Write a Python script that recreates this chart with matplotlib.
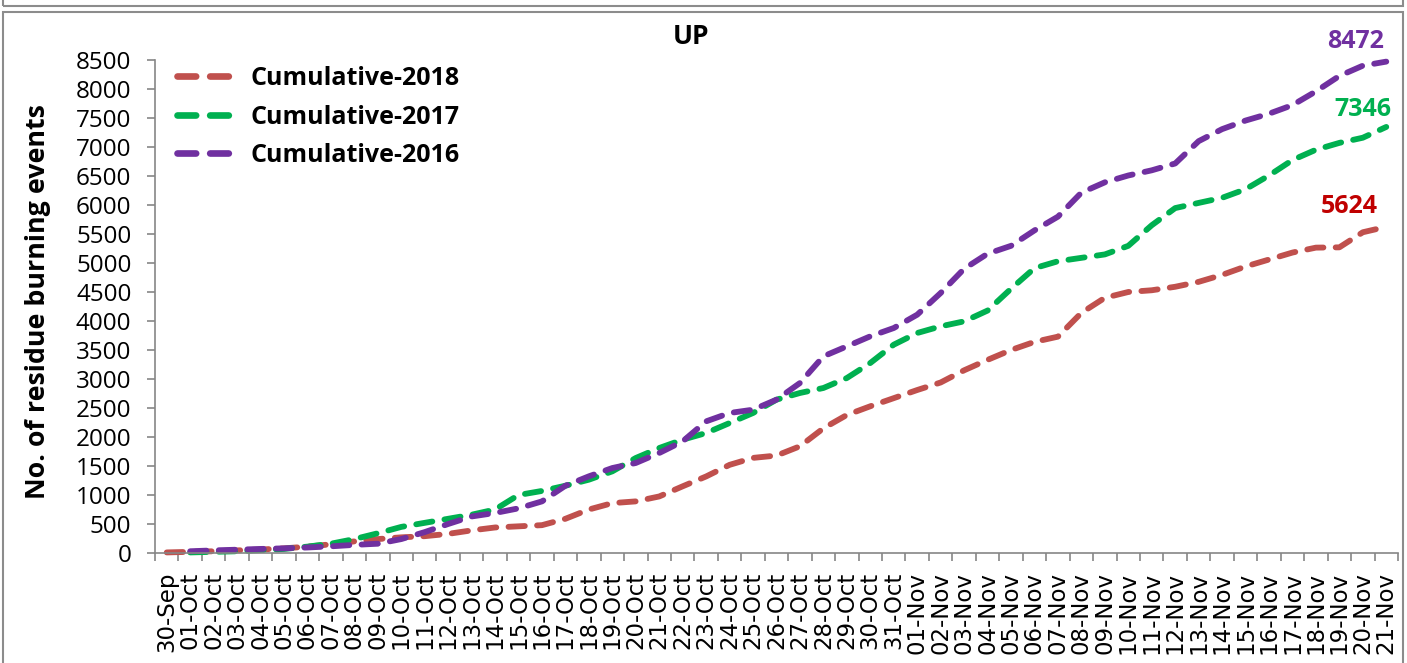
import numpy as np
import matplotlib
matplotlib.use("Agg")
from matplotlib import pyplot as plt
from matplotlib.patches import Rectangle

# x categories
dates = ["30-Sep"] + [f"{d:02d}-Oct" for d in range(1, 32)] + [f"{d:02d}-Nov" for d in range(1, 22)]

nan = np.nan
cum_2018 = [10, 20, 30, 45, 60, 80, 110, 150, 200, 240, 270, 290, 330, 390, 440, 460, 480, 590,
            750, 860, 890, 975, 1150, 1320, 1520, 1640, 1680, 1840, 2150, 2380, 2530, 2670, 2810,
            2940, 3150, 3330, 3500, 3640, 3730, 4140, 4400, 4500, 4530, 4590, 4675, 4795, 4940,
            5060, 5180, 5265, 5270, 5530, 5624]
cum_2017 = [nan, 10, 20, 30, 50, 70, 110, 160, 240, 340, 450, 520, 590, 660, 750, 1000, 1070, 1160,
            1264, 1408, 1638, 1810, 1954, 2069, 2241, 2414, 2644, 2759, 2845, 3017, 3276, 3592, 3793,
            3908, 3994, 4180, 4556, 4911, 5030, 5089, 5148, 5296, 5651, 5947, 6036, 6124, 6272,
            6509, 6775, 6953, 7071, 7160, 7346]
cum_2016 = [nan, 30, 45, 57, 70, 80, 95, 115, 140, 160, 240, 360, 500, 630, 690, 770, 890, 1160,
            1322, 1465, 1552, 1724, 1925, 2270, 2414, 2471, 2644, 2931, 3391, 3563, 3736, 3879, 4109,
            4483, 4900, 5160, 5296, 5562, 5799, 6213, 6391, 6509, 6598, 6716, 7101, 7308, 7456,
            7574, 7722, 7959, 8225, 8402, 8472]

series = [
    ("Cumulative-2018", cum_2018, "#C0504D", "#C00000", (-37, 20)),
    ("Cumulative-2017", cum_2017, "#00B050", "#00B050", (-23, 17)),
    ("Cumulative-2016", cum_2016, "#7030A0", "#7030A0", (-31, 20)),
]

W, H = 1407, 663
fig = plt.figure(figsize=(W / 100, H / 100), dpi=100)
bold_font = "Open Sans"

# outer frames
frame_c = "#8c8c8c"
fig.patches.append(Rectangle((3 / W, (H - 6) / H), 1400 / W, 0.05, transform=fig.transFigure,
                             fill=False, edgecolor=frame_c, lw=1.5))
fig.patches.append(Rectangle((3 / W, -0.02), 1400 / W, (H - 12) / H + 0.02, transform=fig.transFigure,
                             fill=False, edgecolor=frame_c, lw=1.5))

ax = fig.add_axes([155 / W, (H - 553) / H, 1243 / W, 493 / H])
x = np.arange(len(dates))

for name, vals, col, lab_col, off in series:
    ln, = ax.plot(x, vals, color=col, lw=4.2, label=name, clip_on=False,
                  solid_capstyle="round", dash_capstyle="round")
    ln.set_dashes((2.8, 2.1))
    ax.annotate(f"{int(vals[-1])}", (x[-1], vals[-1]), xytext=(off[0] * 0.72, off[1] * 0.72),
                textcoords="offset points", ha="center", va="center", color=lab_col,
                fontsize=18, fontweight="bold", family=bold_font, annotation_clip=False)

ax.set_xlim(-0.5, len(dates) - 0.5)
ax.set_ylim(0, 8500)
ax.set_yticks(np.arange(0, 8501, 500))
ax.set_xticks(x)
ax.set_xticks(np.arange(len(dates) + 1) - 0.5, minor=True)
ax.set_xticklabels(dates, rotation=90, fontsize=16.5, family="DejaVu Sans")
for t in ax.get_yticklabels():
    t.set_family("Open Sans")
    t.set_fontsize(17.5)

axis_c = "#868686"
for s in ["top", "right"]:
    ax.spines[s].set_visible(False)
for s in ["left", "bottom"]:
    ax.spines[s].set_color(axis_c)
    ax.spines[s].set_linewidth(1.2)
ax.tick_params(axis="x", which="major", length=0, pad=13.5)
ax.tick_params(axis="x", which="minor", length=6, width=1.2, color=axis_c)
ax.tick_params(axis="y", length=6, width=1.2, color=axis_c, pad=11)

leg = ax.legend(loc="upper left", bbox_to_anchor=(177 / W, (H - 66) / H), bbox_transform=fig.transFigure,
                frameon=False, prop={"family": bold_font, "weight": "bold", "size": 18},
                handlelength=2.4, handletextpad=0.52, labelspacing=0.54, borderaxespad=0, borderpad=0)
for h in leg.get_lines():
    h.set_linewidth(4.8)

fig.text(691 / W, (H - 37) / H, "UP", ha="center", va="center", fontsize=19, fontweight="bold",
         family=bold_font)
fig.text(38 / W, (H - 302) / H, "No. of residue burning events", ha="center", va="center",
         rotation=90, fontsize=19.3, fontweight="bold", family=bold_font)

fig.savefig("out.png", dpi=100)
